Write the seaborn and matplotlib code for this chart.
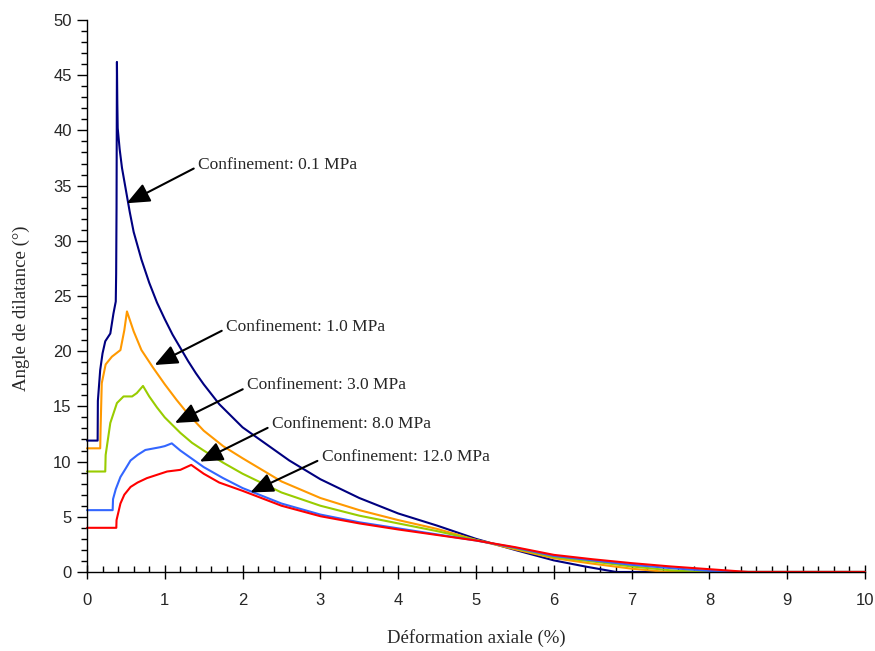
import numpy as np
import pandas as pd
import matplotlib
matplotlib.use("Agg")
import matplotlib.pyplot as plt
import seaborn as sns
from matplotlib.ticker import MultipleLocator

# courbes (deformation axiale %, angle de dilatance deg)
x_01 = [0, 0.137, 0.14, 0.17, 0.2, 0.235, 0.30, 0.34, 0.37, 0.375, 0.38, 0.385, 0.39, 0.395,
        0.42, 0.45, 0.5, 0.55, 0.6, 0.7, 0.8, 0.9, 1.0, 1.1, 1.2, 1.3, 1.4, 1.5, 1.7, 2.0,
        2.3, 2.6, 3.0, 3.5, 4.0, 4.5, 5.0, 5.5, 6.0, 6.4, 6.8, 10]
y_01 = [11.9, 11.9, 15.5, 18.3, 19.8, 20.9, 21.6, 23.4, 24.5, 27, 33, 46.2, 42.5, 40.2,
        38.3, 36.6, 34.6, 32.6, 30.8, 28.3, 26.2, 24.4, 22.9, 21.5, 20.3, 19.1, 18.0, 17.0, 15.2, 13.1,
        11.6, 10.1, 8.4, 6.7, 5.3, 4.2, 3.0, 2.0, 1.05, 0.5, 0, 0]

x_1 = [0, 0.17, 0.175, 0.19, 0.24, 0.32, 0.43, 0.48, 0.514, 0.6, 0.7, 0.85, 1.0, 1.15, 1.3,
       1.5, 1.75, 2.0, 2.5, 3.0, 3.5, 4.0, 4.5, 5.0, 5.5, 6.0, 6.5, 7.0, 7.45, 10]
y_1 = [11.2, 11.2, 13.0, 17.1, 18.8, 19.5, 20.1, 21.9, 23.6, 21.8, 20.1, 18.5, 17.0, 15.6, 14.3,
       12.8, 11.4, 10.3, 8.2, 6.7, 5.6, 4.7, 3.9, 2.9, 2.05, 1.25, 0.75, 0.3, 0, 0]

x_3 = [0, 0.235, 0.24, 0.30, 0.385, 0.47, 0.58, 0.64, 0.72, 0.8, 0.9, 1.0, 1.1, 1.2, 1.35,
       1.5, 1.75, 2.0, 2.5, 3.0, 3.5, 4.0, 4.5, 5.0, 5.5, 6.0, 6.5, 7.0, 7.5, 7.9, 10]
y_3 = [9.1, 9.1, 10.6, 13.5, 15.3, 15.9, 15.9, 16.2, 16.85, 15.9, 14.9, 14.0, 13.3, 12.6, 11.7,
       11.0, 9.9, 8.9, 7.2, 6.0, 5.1, 4.4, 3.7, 2.9, 2.15, 1.35, 0.95, 0.5, 0.15, 0, 0]

x_8 = [0, 0.33, 0.335, 0.37, 0.43, 0.5, 0.56, 0.65, 0.75, 0.94, 1.0, 1.09, 1.2, 1.32, 1.5,
       1.75, 2.0, 2.5, 3.0, 3.5, 4.0, 4.5, 5.0, 5.5, 6.0, 6.5, 7.0, 7.5, 8.0, 8.2, 10]
y_8 = [5.6, 5.6, 6.6, 7.5, 8.6, 9.4, 10.1, 10.6, 11.05, 11.3, 11.4, 11.65, 11.0, 10.4, 9.5,
       8.5, 7.6, 6.2, 5.2, 4.5, 3.95, 3.4, 2.85, 2.2, 1.45, 1.05, 0.65, 0.35, 0.1, 0, 0]

x_12 = [0, 0.377, 0.38, 0.40, 0.43, 0.48, 0.56, 0.65, 0.77, 0.9, 1.03, 1.2, 1.34, 1.5, 1.7,
        2.0, 2.5, 3.0, 3.5, 4.0, 4.5, 5.0, 5.5, 6.0, 6.5, 7.0, 7.5, 8.0, 8.5, 10]
y_12 = [4.0, 4.0, 4.7, 5.3, 6.2, 7.0, 7.7, 8.1, 8.5, 8.8, 9.1, 9.25, 9.7, 8.9, 8.1,
        7.35, 6.0, 5.05, 4.4, 3.85, 3.35, 2.85, 2.25, 1.55, 1.15, 0.8, 0.5, 0.25, 0, 0]

labels = ["0.1 MPa", "1.0 MPa", "3.0 MPa", "8.0 MPa", "12.0 MPa"]
colors = ["#000080", "#FF9900", "#99CC00", "#3366FF", "#FF0000"]

frames = []
for lab, xs, ys in zip(labels, [x_01, x_1, x_3, x_8, x_12], [y_01, y_1, y_3, y_8, y_12]):
    frames.append(pd.DataFrame({"x": xs, "y": ys, "conf": lab}))
df = pd.concat(frames, ignore_index=True)

sns.set_style("ticks")
plt.rcParams['font.family'] = ['Liberation Serif', 'DejaVu Serif']

fig = plt.figure(figsize=(8.75, 6.51), dpi=100)
ax = fig.add_axes([0.0994, 0.1214, 0.8892, 0.8479])

sns.lineplot(data=df, x="x", y="y", hue="conf", palette=colors, sort=False,
             estimator=None, linewidth=1.5, legend=False, ax=ax)
for line in ax.lines:
    line.set_clip_on(False)

ax.set_xlim(0, 10)
ax.set_ylim(0, 50)
ax.xaxis.set_major_locator(MultipleLocator(1))
ax.xaxis.set_minor_locator(MultipleLocator(0.2))
ax.yaxis.set_major_locator(MultipleLocator(5))
ax.yaxis.set_minor_locator(MultipleLocator(1))
ax.tick_params(axis='x', which='major', length=10, width=1, color='black', direction='inout', pad=10)
ax.tick_params(axis='x', which='minor', length=4, width=1, color='black', direction='in')
ax.tick_params(axis='y', which='major', length=7, width=1, color='black', direction='out', pad=4)
ax.tick_params(axis='y', which='minor', length=4, width=1, color='black', direction='out')
for lbl in ax.get_xticklabels() + ax.get_yticklabels():
    lbl.set_family(['Liberation Sans', 'DejaVu Sans'])
    lbl.set_fontsize(12)

sns.despine(ax=ax)
for s in ['left', 'bottom']:
    ax.spines[s].set_color('black')
    ax.spines[s].set_linewidth(1)

ax.set_xlabel("Déformation axiale (%)", fontsize=13.5)
ax.set_ylabel("Angle de dilatance (°)", fontsize=13.5)
ax.xaxis.set_label_coords(0.5, -0.103)
ax.yaxis.set_label_coords(-0.073, 0.478)

# annotations : (texte, position texte, pointe fleche)
annots = [("Confinement: 0.1 MPa", (1.43, 36.9), (0.51, 33.4)),
          ("Confinement: 1.0 MPa", (1.79, 22.2), (0.87, 18.75)),
          ("Confinement: 3.0 MPa", (2.06, 16.9), (1.13, 13.5)),
          ("Confinement: 8.0 MPa", (2.38, 13.4), (1.45, 10.0)),
          ("Confinement: 12.0 MPa", (3.02, 10.4), (2.10, 7.2))]
for txt, pos, tip in annots:
    ax.annotate(txt, xy=tip, xytext=pos, fontsize=12.5, ha='left', va='center',
                arrowprops=dict(arrowstyle='-|>,head_length=0.7,head_width=0.3',
                                color='black', lw=1.5, shrinkA=1, shrinkB=0,
                                relpos=(0, 0.4), mutation_scale=20))

fig.savefig("out.png", dpi=100)
